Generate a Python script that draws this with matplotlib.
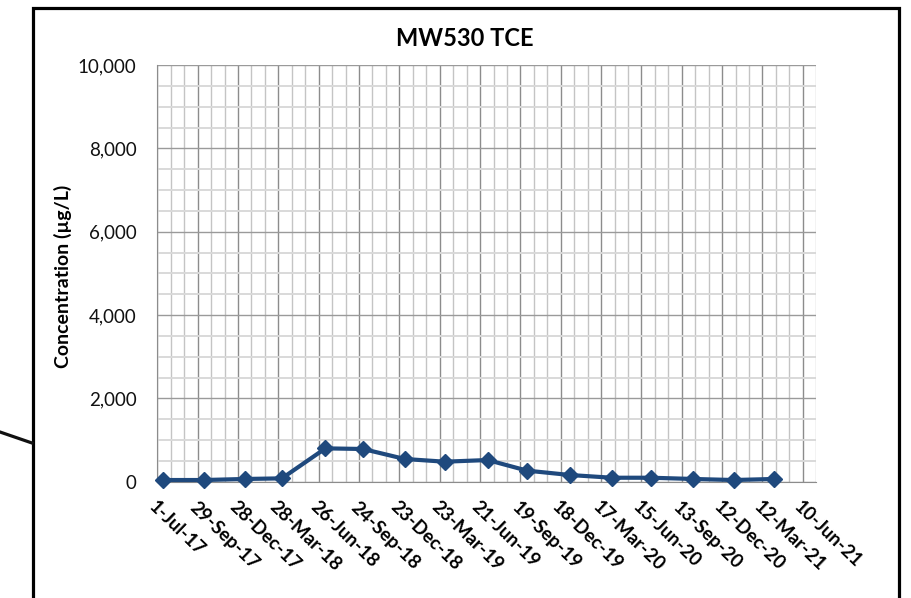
import numpy as np
import pandas as pd
import matplotlib
matplotlib.use("Agg")
import matplotlib.pyplot as plt
import matplotlib.dates as mdates
from matplotlib.ticker import FixedLocator, FuncFormatter, MultipleLocator
from matplotlib.patches import Rectangle
from matplotlib.lines import Line2D

plt.rcParams['font.family'] = ['Lato', 'DejaVu Sans']

# sample dates and TCE results (ug/L)
sample_dates = ['2017-07-13', '2017-10-13', '2018-01-12', '2018-04-05',
                '2018-07-11', '2018-10-03', '2019-01-04', '2019-04-03',
                '2019-07-08', '2019-10-04', '2020-01-08', '2020-04-10',
                '2020-07-07', '2020-10-09', '2021-01-07', '2021-04-06']
tce_values = [40, 40, 65, 80, 800, 785, 545, 480, 520, 265, 160, 95, 95, 65, 40, 65]

title = "MW530 TCE"
y_label = "Concentration (µg/L)"
x_start = '2017-07-01'
x_end = '2021-07-10'
y_max = 10000

dates = pd.to_datetime(sample_dates)
major_ticks = pd.date_range(x_start, '2021-06-10', freq='90D')
minor_ticks = pd.date_range(x_start, x_end, freq='30D')

fig = plt.figure(figsize=(9.12, 5.98), dpi=100)
ax = fig.add_axes([0.1725, 0.1945, 0.7225, 0.6965])

# grid first so the line sits on top
ax.set_axisbelow(True)
ax.xaxis.set_major_locator(FixedLocator(mdates.date2num(major_ticks)))
ax.xaxis.set_minor_locator(FixedLocator(mdates.date2num(minor_ticks)))
ax.yaxis.set_major_locator(MultipleLocator(2000))
ax.yaxis.set_minor_locator(MultipleLocator(500))
ax.grid(which='major', axis='x', color='#8c8c8c', linewidth=1.0)
ax.grid(which='minor', axis='x', color='#c4c4c4', linewidth=1.0)
ax.grid(which='major', axis='y', color='#9a9a9a', linewidth=1.0)
ax.grid(which='minor', axis='y', color='#d9d9d9', linewidth=1.4)

ax.plot(dates, tce_values, color='#1f497d', linewidth=3, marker='D',
        markersize=8.5, markeredgecolor='#1f497d', zorder=3, clip_on=False)

ax.set_xlim(pd.Timestamp(x_start), pd.Timestamp(x_end))
ax.set_ylim(0, y_max)

def date_fmt(x, pos):
    d = mdates.num2date(x)
    return f"{d.day}-{d.strftime('%b-%y')}"

ax.xaxis.set_major_formatter(FuncFormatter(date_fmt))
ax.yaxis.set_major_formatter(FuncFormatter(lambda v, p: f"{int(v):,}"))

ax.tick_params(which='both', length=0)
ax.tick_params(axis='y', labelsize=13.5, pad=15, labelcolor='#111111')
ax.tick_params(axis='x', labelsize=13.5, pad=12)
for lab in ax.get_xticklabels():
    lab.set_rotation(-44)
    lab.set_ha('left')
    lab.set_va('top')
    lab.set_rotation_mode('anchor')
    lab.set_fontweight('bold')

for side in ['top', 'right']:
    ax.spines[side].set_visible(False)
ax.spines['left'].set_color('#8c8c8c')
ax.spines['bottom'].set_color('#8c8c8c')

fig.text(0.51, 1 - 38 / 598, title, ha='center', va='center',
         fontsize=17, fontweight='bold')
fig.text(62.5 / 912, 1 - 276 / 598, y_label, ha='center', va='center',
         rotation=90, fontsize=14, fontweight='bold')

# black box around the chart, bottom runs off the picture
box = Rectangle((33 / 912, -0.05), (899 - 33) / 912, 1.05 - 8 / 598,
                transform=fig.transFigure, fill=False, edgecolor='black',
                linewidth=2.3, clip_on=False)
fig.patches.append(box)
# stray connector line on the left
fig.lines.append(Line2D([0, 32 / 912], [1 - 432 / 598, 1 - 443 / 598],
                        transform=fig.transFigure, color='#111111', linewidth=2.3))

fig.savefig("out.png", dpi=100)
